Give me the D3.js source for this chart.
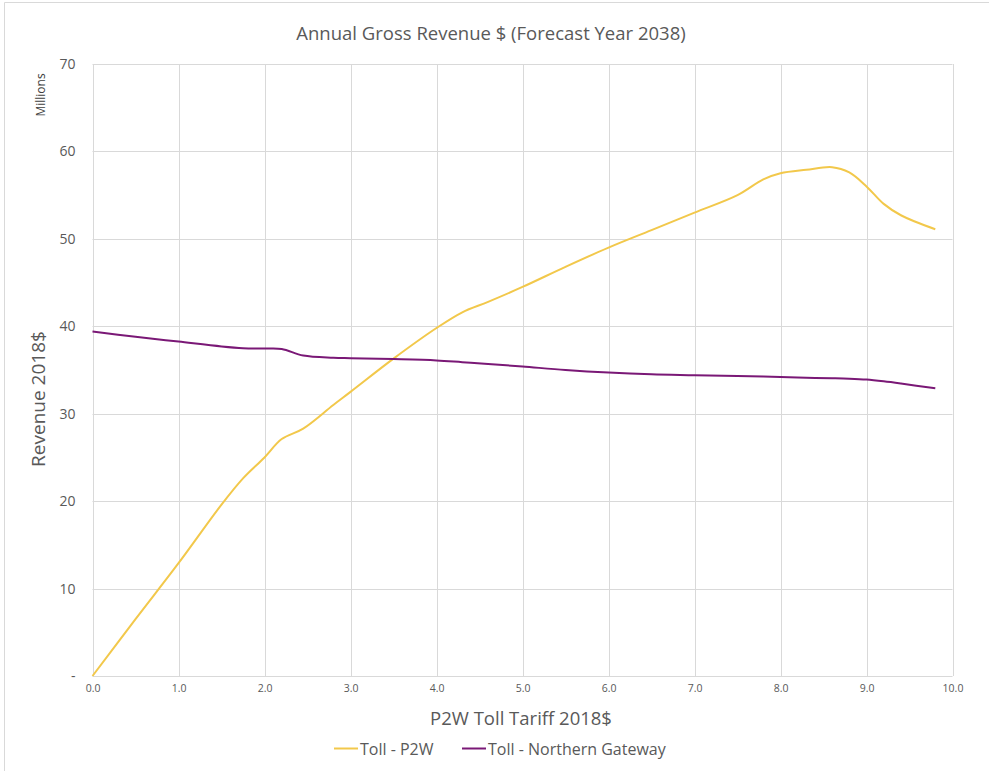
<!DOCTYPE html>
<html>
<head>
<meta charset="utf-8">
<script src="https://cdn.jsdelivr.net/npm/d3@7"></script>
<style>
  html, body { margin: 0; padding: 0; background: #fff; }
  svg { display: block; font-family: "Open Sans", "Liberation Sans", sans-serif; }
</style>
</head>
<body>
<svg id="chart" width="989" height="771"></svg>
<script>
// Toll tariff steps (2018$) and annual gross revenue (millions, 2018$)
const tariff = [0, 0.5, 1.0, 1.5, 1.75, 2.0, 2.2, 2.45, 2.8, 3.0, 3.5, 4.0, 4.3, 4.6, 5.0,
                5.5, 6.0, 6.5, 7.0, 7.5, 7.8, 8.0, 8.3, 8.6, 8.8, 9.0, 9.2, 9.4, 9.8];
const revenueP2W = [0, 6.5, 12.9, 19.6, 22.6, 25.0, 27.1, 28.3, 31.0, 32.5, 36.3, 39.8, 41.6, 42.8, 44.5,
                    46.8, 49.0, 51.0, 53.0, 55.0, 56.8, 57.5, 57.9, 58.2, 57.6, 56.0, 54.0, 52.7, 51.1];
const revenueNG = [39.4, 38.8, 38.25, 37.7, 37.5, 37.45, 37.4, 36.65, 36.4, 36.35, 36.25, 36.1, 35.9, 35.7, 35.4,
                   35.0, 34.7, 34.5, 34.4, 34.3, 34.25, 34.2, 34.1, 34.05, 34.0, 33.9, 33.7, 33.45, 32.9];

const seriesNames = ["Toll - P2W", "Toll - Northern Gateway"];
const seriesColors = ["#F2C84B", "#7A1876"];
const xTicks = [0, 1, 2, 3, 4, 5, 6, 7, 8, 9, 10];
const yTicks = [0, 10, 20, 30, 40, 50, 60, 70];

const svg = d3.select("#chart");
const W = 989, H = 771;
const plot = { left: 92.5, right: 952.5, top: 64, bottom: 676 };

// chart frame
svg.append("path")
  .attr("d", `M4.5,${H} V2.5 H${W}`)
  .attr("fill", "none").attr("stroke", "#d9d9d9").attr("stroke-width", 1);

const x = d3.scaleLinear().domain([0, 10]).range([plot.left, plot.right]);
const y = d3.scaleLinear().domain([0, 70]).range([plot.bottom, plot.top]);

// gridlines
svg.append("g").selectAll("line.v").data(xTicks).join("line")
  .attr("x1", d => Math.round(x(d)) + 0.5).attr("x2", d => Math.round(x(d)) + 0.5)
  .attr("y1", plot.top).attr("y2", plot.bottom)
  .attr("stroke", "#d9d9d9").attr("stroke-width", 1);
svg.append("g").selectAll("line.h").data(yTicks).join("line")
  .attr("x1", plot.left).attr("x2", plot.right)
  .attr("y1", d => Math.round(y(d)) + 0.5).attr("y2", d => Math.round(y(d)) + 0.5)
  .attr("stroke", "#d9d9d9").attr("stroke-width", 1);

// axes
const xAxis = d3.axisBottom(x).tickValues(xTicks).tickFormat(d3.format(".1f")).tickSize(0).tickPadding(9);
const gx = svg.append("g").attr("transform", `translate(0,${plot.bottom})`).call(xAxis);
gx.select(".domain").remove();
gx.selectAll("text").attr("fill", "#595959").attr("font-size", 10.5)
  .style("font-family", "'Open Sans', sans-serif");

const yAxis = d3.axisLeft(y).tickValues(yTicks).tickFormat(d => d === 0 ? "-" : d).tickSize(0).tickPadding(17);
const gy = svg.append("g").attr("transform", `translate(${plot.left},0)`).call(yAxis);
gy.select(".domain").remove();
gy.selectAll("text").attr("fill", "#595959").attr("font-size", 14)
  .style("font-family", "'Open Sans', sans-serif");

// series lines
const rows = tariff.map((t, i) => ({ t, p2w: revenueP2W[i], ng: revenueNG[i] }));
const line = key => d3.line().x(d => x(d.t)).y(d => y(d[key])).curve(d3.curveCatmullRom.alpha(0.5));
svg.append("path").datum(rows).attr("d", line("p2w"))
  .attr("fill", "none").attr("stroke", seriesColors[0]).attr("stroke-width", 2).attr("stroke-linejoin", "round");
svg.append("path").datum(rows).attr("d", line("ng"))
  .attr("fill", "none").attr("stroke", seriesColors[1]).attr("stroke-width", 2).attr("stroke-linejoin", "round");

// titles
svg.append("text").attr("x", 491).attr("y", 40).attr("text-anchor", "middle")
  .attr("fill", "#595959").attr("font-size", 18.5).text("Annual Gross Revenue $ (Forecast Year 2038)");
svg.append("text").attr("transform", "translate(45,95) rotate(-90)").attr("text-anchor", "middle")
  .attr("fill", "#404040").attr("font-size", 12).text("Millions");
svg.append("text").attr("transform", "translate(45,399) rotate(-90)").attr("text-anchor", "middle")
  .attr("fill", "#595959").attr("font-size", 19).text("Revenue 2018$");
svg.append("text").attr("x", 521).attr("y", 725).attr("text-anchor", "middle")
  .attr("fill", "#595959").attr("font-size", 18.5).text("P2W Toll Tariff 2018$");

// legend
const legendX = [334, 462];
const lg = svg.append("g");
seriesNames.forEach((name, i) => {
  lg.append("line").attr("x1", legendX[i]).attr("x2", legendX[i] + 24)
    .attr("y1", 748.5).attr("y2", 748.5).attr("stroke", seriesColors[i]).attr("stroke-width", 2);
  lg.append("text").attr("x", legendX[i] + 26).attr("y", 754.5)
    .attr("fill", "#595959").attr("font-size", 16).text(name);
});
</script>
</body>
</html>
